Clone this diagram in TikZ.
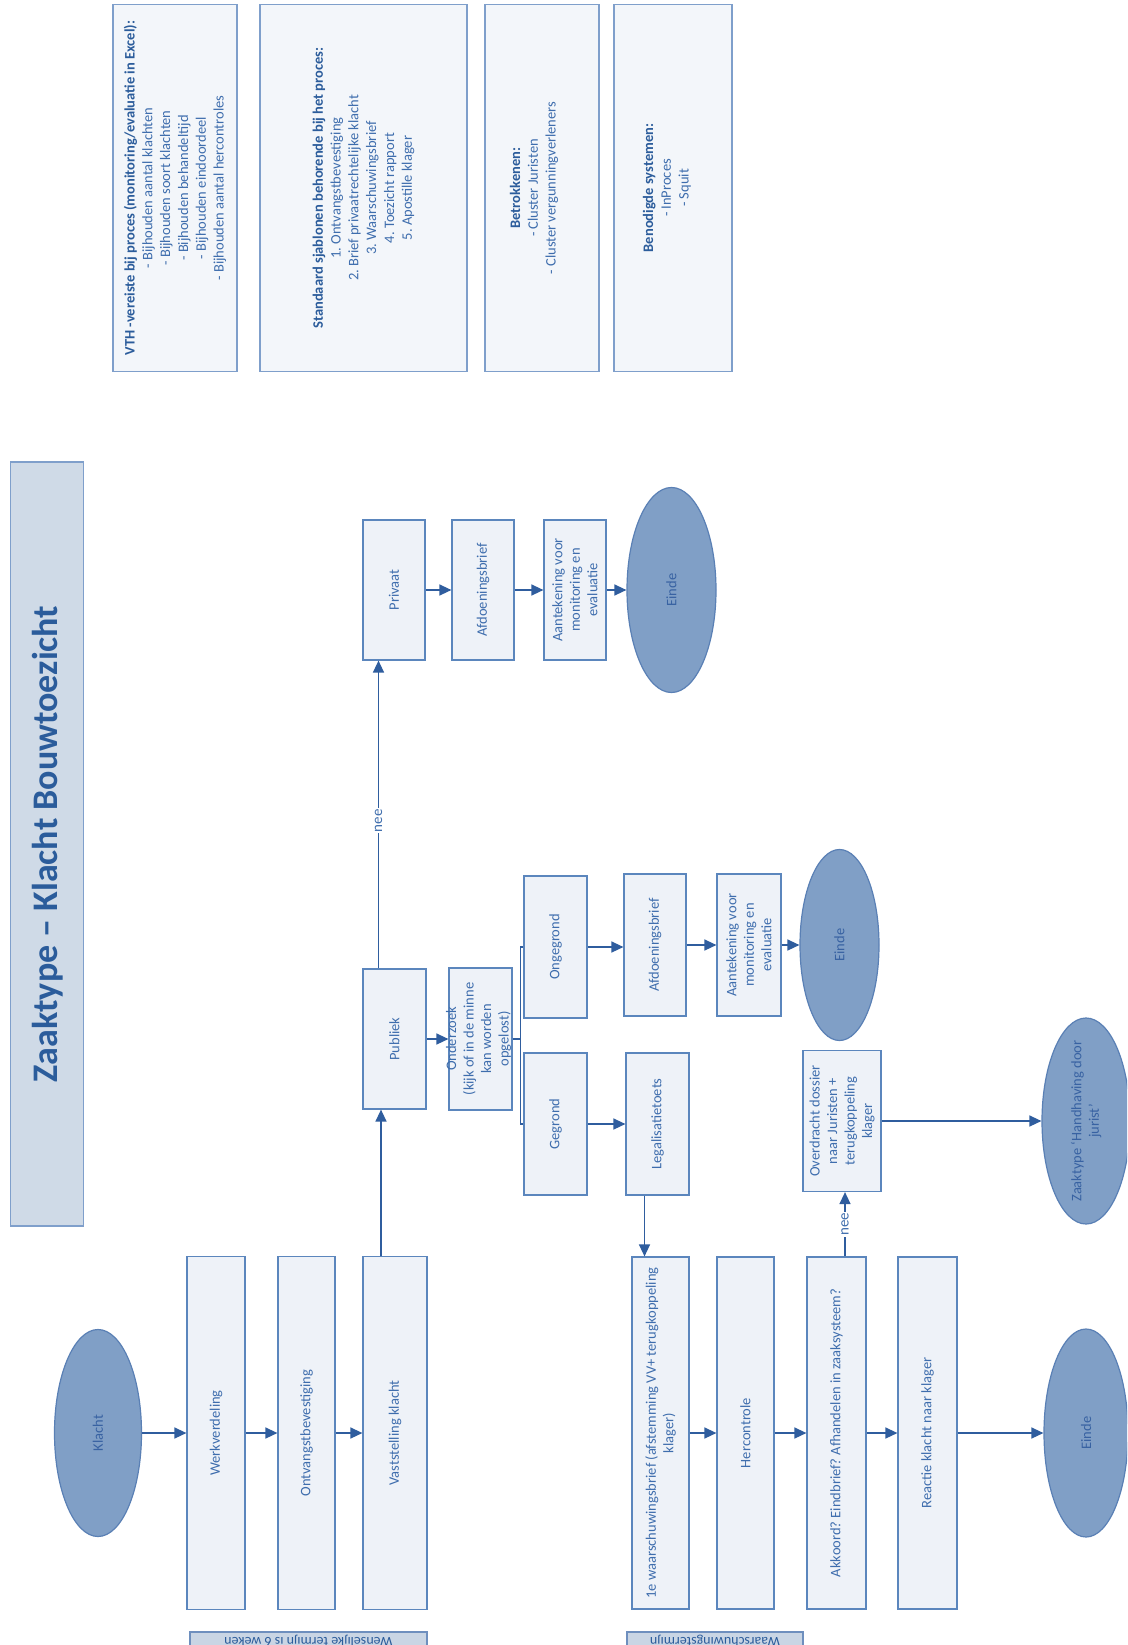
\documentclass[tikz,border=0pt]{standalone}
\usepackage{fontspec}
\setmainfont{Carlito}
\frenchspacing
\usetikzlibrary{arrows.meta,shapes.geometric}
\definecolor{boxfill}{HTML}{EEF2F8}
\definecolor{boxdraw}{HTML}{5B86BD}
\definecolor{txtblue}{HTML}{3E6DAD}
\definecolor{ellfill}{HTML}{809FC6}
\definecolor{elldraw}{HTML}{5A80B5}
\definecolor{elltext}{HTML}{3862A2}
\definecolor{arrblue}{HTML}{2F5D9E}
\definecolor{infofill}{HTML}{F3F6FA}
\definecolor{infodraw}{HTML}{7F9FCB}
\definecolor{titlefill}{HTML}{CFDAE7}
\definecolor{titletext}{HTML}{2B5C9B}
\definecolor{tagfill}{HTML}{C9D5E4}
\definecolor{tagdraw}{HTML}{6E8FBE}
\begin{document}
\begin{tikzpicture}[x=1pt,y=-1pt,
  box/.style={draw=boxdraw, fill=boxfill, line width=1.2pt, rectangle, inner sep=0pt},
  oval/.style={draw=elldraw, fill=ellfill, line width=1.2pt, ellipse, inner sep=0pt},
  info/.style={draw=infodraw, fill=infofill, line width=1.2pt, rectangle, inner sep=0pt},
  txt/.style={rotate=90, align=center, text=txtblue, inner sep=0pt,
    font=\fontsize{14.5}{17.5}\selectfont},
  otxt/.style={txt, text=elltext},
  itxt/.style={rotate=90, align=center, text=txtblue, inner sep=0pt,
    font=\fontsize{14.5}{17.8}\selectfont},
  nee/.style={rotate=90, fill=white, text=txtblue, inner sep=1pt,
    font=\fontsize{15}{17}\selectfont},
  arr/.style={draw=arrblue, line width=1.4pt, -{Triangle[length=12pt,width=11pt]}},
  lnk/.style={draw=arrblue, line width=1.4pt},
  tag/.style={draw=tagdraw, fill=tagfill, line width=1.2pt, rectangle, inner sep=0pt},
  tagtxt/.style={rotate=180, text=titletext, font=\fontsize{14}{16}\selectfont}]
\clip (0,0) rectangle (1127,1645);
\fill[white] (0,0) rectangle (1127,1645);

% title bar
\node[draw=infodraw, fill=titlefill, line width=1.2pt, inner sep=0pt,
  minimum width=73pt, minimum height=764pt] (title) at (47,844) {};
\node[rotate=90, text=titletext, font=\fontsize{36}{40}\selectfont\bfseries] (title-t) at ([xshift=1pt]title.center) {Zaaktype – Klacht Bouwtoezicht};

% information panels
\node[info, minimum width=124pt, minimum height=367pt] (vth) at (175,188) {};
\node[itxt] (vth-t) at (vth) {\textbf{\color{titletext}VTH -vereiste bij proces (monitoring/evaluatie in Excel):}\\- Bijhouden aantal klachten\\- Bijhouden soort klachten\\- Bijhouden behandeltijd\\- Bijhouden eindoordeel\\- Bijhouden aantal hercontroles};
\node[info, minimum width=207pt, minimum height=367pt] (std) at (363.5,188) {};
\node[itxt] (std-t) at (std) {\textbf{\color{titletext}Standaard sjablonen behorende bij het proces:}\\1. Ontvangstbevestiging\\2. Brief privaatrechtelijke klacht\\3. Waarschuwingsbrief\\4. Toezicht rapport\\5. Apostille klager};
\node[info, minimum width=114pt, minimum height=367pt] (betr) at (542,188) {};
\node[itxt] (betr-t) at ([xshift=-8pt]betr.center) {\textbf{\color{titletext}Betrokkenen:}\\- Cluster Juristen\\- Cluster vergunningverleners};
\node[info, minimum width=118pt, minimum height=367pt] (beno) at (673,188) {};
\node[itxt] (beno-t) at ([xshift=-6pt]beno.center) {\textbf{\color{titletext}Benodigde systemen:}\\- InProces\\- Squit};

% intake column
\node[oval, minimum width=87pt, minimum height=207pt] (klacht) at (98,1433) {};
\node[otxt] (klacht-t) at (klacht) {Klacht};
\node[box, minimum width=58pt, minimum height=353pt] (werk) at (216,1433) {};
\node[txt] (werk-t) at (werk) {Werkverdeling};
\node[box, minimum width=57pt, minimum height=353pt] (ontv) at (306.5,1433) {};
\node[txt] (ontv-t) at (ontv) {Ontvangstbevestiging};
\node[box, minimum width=64pt, minimum height=353pt] (vast) at (395,1433) {};
\node[txt] (vast-t) at (vast) {Vaststelling klacht};

% public / private split
\node[box, minimum width=63pt, minimum height=140pt] (pub) at (394.5,1039) {};
\node[txt] (pub-t) at (pub) {Publiek};
\node[box, minimum width=62pt, minimum height=140pt] (priv) at (394,590) {};
\node[txt] (priv-t) at (priv) {Privaat};
\node[box, minimum width=62pt, minimum height=140pt] (afd1) at (483,590) {};
\node[txt] (afd1-t) at (afd1) {Afdoeningsbrief};
\node[box, minimum width=62pt, minimum height=140pt] (aant1) at (575,590) {};
\node[txt] (aant1-t) at (aant1) {Aantekening voor\\monitoring en\\evaluatie};
\node[oval, minimum width=89pt, minimum height=205pt] (einde1) at (671.5,590) {};
\node[otxt] (einde1-t) at (einde1) {Einde};

% investigation
\node[box, minimum width=63pt, minimum height=142pt] (ond) at (480.5,1039) {};
\node[txt] (ond-t) at ([xshift=-2pt]ond.center) {Onderzoek\\(kijk of in de minne\\kan worden\\opgelost)};
\node[box, minimum width=63pt, minimum height=142pt] (ong) at (555.5,947) {};
\node[txt] (ong-t) at (ong) {Ongegrond};
\node[box, minimum width=63pt, minimum height=142pt] (geg) at (555.5,1124) {};
\node[txt] (geg-t) at (geg) {Gegrond};
\node[box, minimum width=62pt, minimum height=142pt] (afd2) at (655,945) {};
\node[txt] (afd2-t) at (afd2) {Afdoeningsbrief};
\node[box, minimum width=64pt, minimum height=142pt] (aant2) at (749,945) {};
\node[txt] (aant2-t) at (aant2) {Aantekening voor\\monitoring en\\evaluatie};
\node[oval, minimum width=79pt, minimum height=191pt] (einde2) at (839.5,945) {};
\node[otxt] (einde2-t) at (einde2) {Einde};
\node[box, minimum width=63pt, minimum height=142pt] (legal) at (657.5,1124) {};
\node[txt] (legal-t) at (legal) {Legalisatietoets};

% warning period column
\node[box, minimum width=57pt, minimum height=352pt] (warn) at (660.5,1433) {};
\node[txt] (warn-t) at (warn) {1e waarschuwingsbrief (afstemming VV+ terugkoppeling\\klager)};
\node[box, minimum width=57pt, minimum height=352pt] (herc) at (745.5,1433) {};
\node[txt] (herc-t) at (herc) {Hercontrole};
\node[box, minimum width=59pt, minimum height=352pt] (akk) at (836.5,1433) {};
\node[txt] (akk-t) at (akk) {Akkoord? Eindbrief? Afhandelen in zaaksysteem?};
\node[box, minimum width=59pt, minimum height=352pt] (reac) at (927.5,1433) {};
\node[txt] (reac-t) at (reac) {Reactie klacht naar klager};
\node[oval, minimum width=84pt, minimum height=208pt] (einde3) at (1086,1433) {};
\node[otxt] (einde3-t) at (einde3) {Einde};
\node[box, minimum width=78pt, minimum height=141pt] (over) at (842,1121) {};
\node[txt] (over-t) at (over) {Overdracht dossier\\naar Juristen +\\terugkoppeling\\klager};
\node[oval, minimum width=88pt, minimum height=206pt] (zaak) at (1086,1121) {};
\node[otxt] (zaak-t) at (zaak) {Zaaktype ‘Handhaving door\\jurist’};

% term tags along the bottom edge
\node[tag, minimum width=237pt, minimum height=30pt] (tag1) at (308.5,1647) {};
\node[tagtxt] (tag1-t) at ([yshift=6pt]tag1.center) {Wenselijke termijn is 6 weken};
\node[tag, minimum width=176pt, minimum height=30pt] (tag2) at (715,1647) {};
\node[tagtxt] (tag2-t) at ([yshift=6pt]tag2.center) {Waarschuwingstermijn};

% connectors
\draw[arr] (klacht) -- (werk);
\draw[arr] (werk) -- (ontv);
\draw[arr] (ontv) -- (vast);
\draw[arr] ([xshift=-14pt]vast.north) -- ([xshift=-14pt]vast.north |- pub.south);
\draw[arr] ([xshift=-16pt]pub.north) -- ([xshift=-16pt]pub.north |- priv.south)
  node[nee, pos=0.48] (nee1) {nee};
\draw[arr] (priv) -- (afd1);
\draw[arr] (afd1) -- (aant1);
\draw[arr] (aant1) -- (einde1);
\draw[arr] (pub) -- (ond);
\draw[lnk] (ong.west) -| ([xshift=8pt]ond.east) |- (geg.west);
\draw[lnk] (ond.east) -- ([xshift=8pt]ond.east);
\draw[arr] (ong.east) -- (afd2.west |- ong.east);
\draw[arr] (afd2) -- (aant2);
\draw[arr] (aant2) -- (einde2);
\draw[arr] (geg) -- (legal);
\draw[arr] ([xshift=-13pt]legal.south) -- ([xshift=-13pt]legal.south |- warn.north);
\draw[arr] (warn) -- (herc);
\draw[arr] (herc) -- (akk);
\draw[arr] (akk) -- (reac);
\draw[arr] (reac) -- (einde3);
\draw[arr] ([xshift=8.5pt]akk.north) -- ([xshift=8.5pt]akk.north |- over.south)
  node[nee, midway] (nee2) {nee};
\draw[arr] (over) -- (zaak);
\end{tikzpicture}
\end{document}
